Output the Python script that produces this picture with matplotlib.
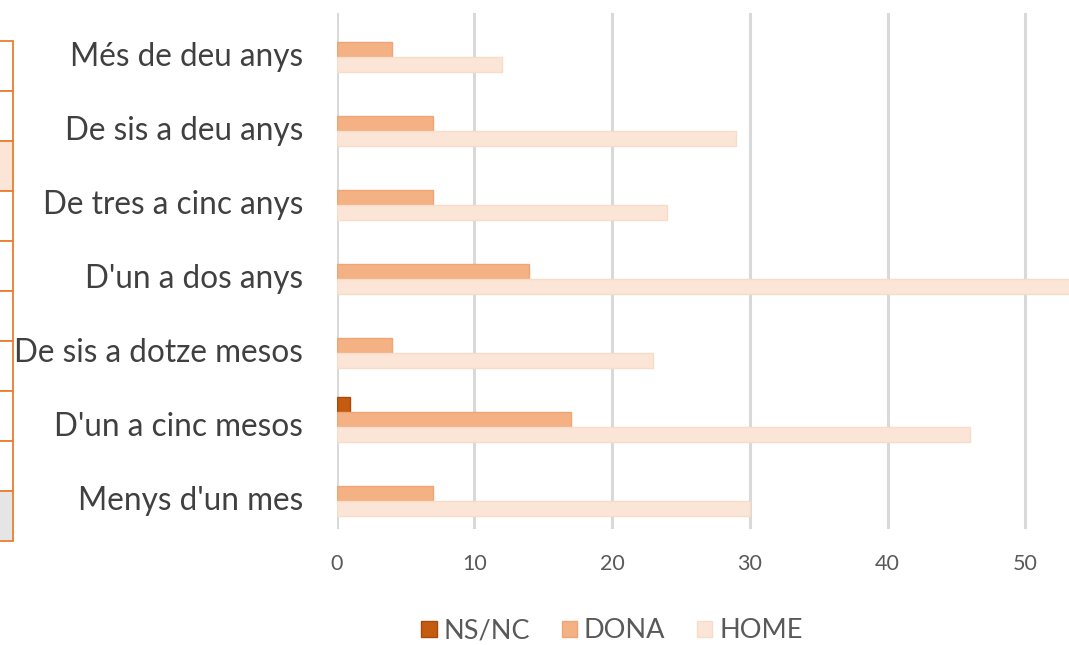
import numpy as np
import matplotlib.pyplot as plt
import matplotlib.transforms as mtransforms
from matplotlib.patches import Rectangle, Patch

plt.rcParams["font.family"] = ["Lato", "DejaVu Sans"]

categories = [
    "Menys d'un mes",
    "D'un a cinc mesos",
    "De sis a dotze mesos",
    "D'un a dos anys",
    "De tres a cinc anys",
    "De sis a deu anys",
    "Més de deu anys",
]
ns_nc = [0, 1, 0, 0, 0, 0, 0]
dona = [7, 17, 4, 14, 7, 7, 4]
home = [30, 46, 23, 55, 24, 29, 12]
series_names = ["NS/NC", "DONA", "HOME"]

colors = {"NS/NC": "#C55A11", "DONA": "#F4B183", "HOME": "#FBE5D6"}
edges = {"NS/NC": "#A9490C", "DONA": "#EEA676", "HOME": "#F7DCC9"}

W, H = 1069, 645
fig = plt.figure(figsize=(W / 100, H / 100), dpi=100)
ax = fig.add_axes([336.7 / W, 1 - 529 / H, (W - 336.7) / W, (529 - 13) / H])

y = np.arange(len(categories))
h = 0.2027
offsets = {"NS/NC": h, "DONA": 0.0, "HOME": -h}
values = {"NS/NC": ns_nc, "DONA": dona, "HOME": home}

for name in series_names:
    vals = np.array(values[name], dtype=float)
    keep = vals > 0
    ax.barh(y[keep] + offsets[name], vals[keep], height=h,
            color=colors[name], edgecolor=edges[name], linewidth=1.0, zorder=3)

ax.set_xlim(0, (W - 336.7) / 13.77)
ax.set_ylim(-0.48, 6.49)
ax.set_xticks(np.arange(0, 60, 10))
ax.set_yticks(y)
ax.set_yticklabels(categories, fontsize=22.7, color="#404040")
ax.tick_params(axis="y", length=0, pad=24)
ax.tick_params(axis="x", length=0, pad=18, labelsize=15.5, labelcolor="#595959")
ax.grid(axis="x", color="#D9D9D9", linewidth=2.2, zorder=0)
ax.set_axisbelow(True)
for s in ax.spines.values():
    s.set_visible(False)

shift = mtransforms.ScaledTranslation(0, -5 / 100, fig.dpi_scale_trans)
for lab in ax.get_yticklabels():
    lab.set_transform(lab.get_transform() + shift)

# partial table cut at the left edge of the picture
for i in range(10):
    top = 41 + i * 50
    fill = "white"
    if i == 2:
        fill = "#FBE5D6"
    elif i == 9:
        fill = "#E5E5E5"
    fig.patches.append(Rectangle((-0.01, 1 - (top + 50) / H), 13 / W + 0.01, 50 / H,
                                 transform=fig.transFigure, facecolor=fill,
                                 edgecolor="#ED7D31", linewidth=1.3))

handles = [Patch(facecolor=colors[n], edgecolor=edges[n]) for n in series_names]
fig.legend(handles, series_names, loc="center", bbox_to_anchor=(612 / W, 1 - 631 / H),
           ncol=3, frameon=False, fontsize=19.5, labelcolor="#595959",
           handlelength=0.58, handleheight=0.58, handletextpad=0.25, columnspacing=1.15)

fig.savefig("out.png", dpi=100)
